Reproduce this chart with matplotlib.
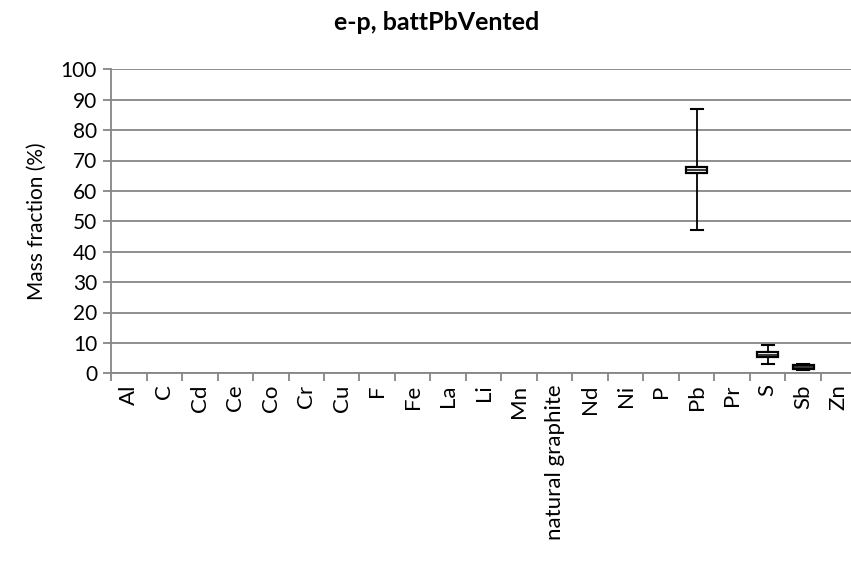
import matplotlib
matplotlib.use("Agg")
import matplotlib.pyplot as plt

categories = ["Al", "C", "Cd", "Ce", "Co", "Cr", "Cu", "F", "Fe", "La", "Li", "Mn",
              "natural graphite", "Nd", "Ni", "P", "Pb", "Pr", "S", "Sb", "Zn"]
box_cats = ["Pb", "S", "Sb"]
medians = [67.0, 6.1, 2.0]
q1 = [66.0, 5.2, 1.3]
q3 = [68.0, 7.1, 2.7]
whis_lo = [47.0, 3.1, 1.0]
whis_hi = [87.0, 9.2, 3.0]
yticks = list(range(0, 101, 10))

plt.rcParams['font.family'] = ['Lato', 'DejaVu Sans']
FS = 15

fig = plt.figure(figsize=(8.51, 5.68), dpi=100)
W, H = 851, 568
left_px, right_px, top_px, bot_px = 111, 111 + 21 * 35.5, 69.3, 373.3
ax = fig.add_axes([left_px / W, 1 - bot_px / H, (right_px - left_px) / W, (bot_px - top_px) / H])

stats = []
positions = []
for c, m, a, b, lo, hi in zip(box_cats, medians, q1, q3, whis_lo, whis_hi):
    stats.append(dict(med=m, q1=a, q3=b, whislo=lo, whishi=hi, fliers=[], label=c))
    positions.append(categories.index(c))

ax.bxp(stats, positions=positions, widths=0.58, showfliers=False, patch_artist=True,
       boxprops=dict(facecolor="white", edgecolor="black", linewidth=1.6),
       medianprops=dict(color="black", linewidth=1.1),
       whiskerprops=dict(color="black", linewidth=1.3),
       capprops=dict(color="black", linewidth=1.5), capwidths=0.34, zorder=3)

ax.set_xlim(-0.5, len(categories) - 0.5)
ax.set_ylim(0, 100)
ax.set_yticks(yticks)
ax.set_yticklabels([str(v) for v in yticks], fontsize=FS)
ax.yaxis.grid(True, color="#868686", linewidth=1.3)
ax.set_axisbelow(True)

ax.set_xticks([i - 0.5 for i in range(len(categories) + 1)])
ax.set_xticklabels([])
ax.set_xticks(range(len(categories)), minor=True)
ax.set_xticklabels(categories, minor=True, rotation=90, fontsize=16)
ax.tick_params(axis="x", which="minor", length=0, pad=8)
ax.tick_params(axis="x", which="major", length=6, color="#868686", width=1.3)
ax.tick_params(axis="y", length=6, color="#868686", width=1.3, pad=4)

for s in ["top", "right"]:
    ax.spines[s].set_visible(False)
for s in ["left", "bottom"]:
    ax.spines[s].set_color("#868686")
    ax.spines[s].set_linewidth(1.3)

ax.set_ylabel("Mass fraction (%)", fontsize=FS, labelpad=10)
fig.text(437 / W, 1 - 22 / H, "e-p, battPbVented", ha="center", va="center",
         fontsize=18, fontweight="bold")

fig.savefig("out.png", dpi=100)
